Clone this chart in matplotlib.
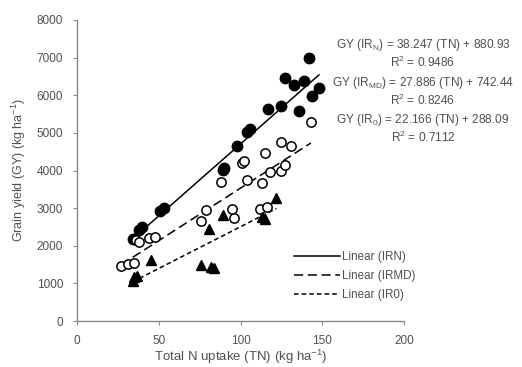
import matplotlib
matplotlib.use("Agg")
import numpy as np
import matplotlib.pyplot as plt

plt.rcParams["font.family"] = ["Liberation Sans", "DejaVu Sans"]
plt.rcParams["mathtext.fontset"] = "custom"
plt.rcParams["mathtext.rm"] = "Liberation Sans"

# ---------------- Dados ----------------
irn_tn = [34, 38, 40, 51, 53, 89, 90, 98, 104, 106, 117, 125, 127, 133, 136, 139, 142, 144, 148]
irn_gy = [2170, 2420, 2490, 2930, 3000, 4020, 4070, 4650, 5030, 5110, 5640, 5720, 6460, 6280, 5590, 6380, 7000, 5980, 6200]

irmd_tn = [27, 31, 35, 36, 38, 44, 48, 76, 79, 88, 95, 96, 101, 102, 104, 112, 113, 115, 116, 118, 125, 125, 127, 131, 143]
irmd_gy = [1460, 1520, 1550, 2150, 2110, 2200, 2230, 2650, 2960, 3700, 2990, 2750, 4190, 4260, 3750, 2990, 3680, 4460, 3020, 3950, 4750, 4000, 4150, 4640, 5300]

ir0_tn = [34, 35, 37, 45, 76, 81, 82, 84, 89, 113, 115, 122]
ir0_gy = [1060, 1180, 1200, 1610, 1490, 2440, 1430, 1410, 2820, 2770, 2710, 3260]

# coeficientes das equações (slope, intercept)
fits = {
    "IRN": (38.247, 880.93),
    "IRMD": (27.886, 742.44),
    "IR0": (22.166, 288.09),
}

W, H = 522, 367
TXT = "#505050"

fig = plt.figure(figsize=(W / 100, H / 100), dpi=100)
ax = fig.add_axes([77 / W, 1 - 321 / H, 327 / W, 301 / H])

ms = 7.5
ax.plot(irn_tn, irn_gy, "o", color="black", ms=ms, zorder=3)
ax.plot(irmd_tn, irmd_gy, "o", mfc="white", mec="black", mew=1.1, ms=ms - 0.8, zorder=3)
ax.plot(ir0_tn, ir0_gy, "^", color="black", ms=ms, zorder=3)

def trend(xs, key, ls, label):
    a, b = fits[key]
    x = np.array([min(xs), max(xs)])
    ax.plot(x, a * x + b, color="black", lw=1.1, ls=ls, label=label, zorder=2)

trend(irn_tn, "IRN", "-", "Linear (IRN)")
trend(irmd_tn, "IRMD", (0, (6, 3)), "Linear (IRMD)")
trend(ir0_tn, "IR0", (0, (3, 2)), "Linear (IR0)")

ax.set_xlim(0, 200)
ax.set_ylim(0, 8000)
ax.set_xticks(range(0, 201, 50))
ax.set_yticks(range(0, 8001, 1000))
for s in ["top", "right"]:
    ax.spines[s].set_visible(False)
for s in ["left", "bottom"]:
    ax.spines[s].set_color("#888888")
    ax.spines[s].set_linewidth(1.0)
ax.tick_params(direction="out", length=3, color="#888888", labelsize=8.5, labelcolor=TXT)
ax.tick_params(axis="x", pad=7)
ax.tick_params(axis="y", pad=7)

ax.set_xlabel("Total N uptake (TN) (kg ha$^{-1}$)", fontsize=9.5, color=TXT, labelpad=1)
ax.set_ylabel("Grain yield (GY) (kg ha$^{-1}$)", fontsize=9, color=TXT, labelpad=6)

leg = ax.legend(loc="upper left", bbox_to_anchor=(294 / W, 1 - 251 / H),
                bbox_transform=fig.transFigure, frameon=False, fontsize=8.4,
                handlelength=3.9, labelspacing=0.6, handletextpad=0.25,
                borderpad=0, borderaxespad=0)
for t in leg.get_texts():
    t.set_color(TXT)

# equações
eq = [
    ("GY (IR$_\\mathrm{N}$) = 38.247 (TN) + 880.93", "R$^2$ = 0.9486", 45),
    ("GY (IR$_\\mathrm{MD}$) = 27.886 (TN) + 742.44", "R$^2$ = 0.8246", 83),
    ("GY (IR$_\\mathrm{0}$) = 22.166 (TN) + 288.09", "R$^2$ = 0.7112", 120),
]
for line1, line2, ypx in eq:
    fig.text(423 / W, 1 - ypx / H, line1, ha="center", va="center", fontsize=8.6, color=TXT)
    fig.text(423 / W, 1 - (ypx + 17) / H, line2, ha="center", va="center", fontsize=8.6, color=TXT)

fig.savefig("out.png", dpi=100)
